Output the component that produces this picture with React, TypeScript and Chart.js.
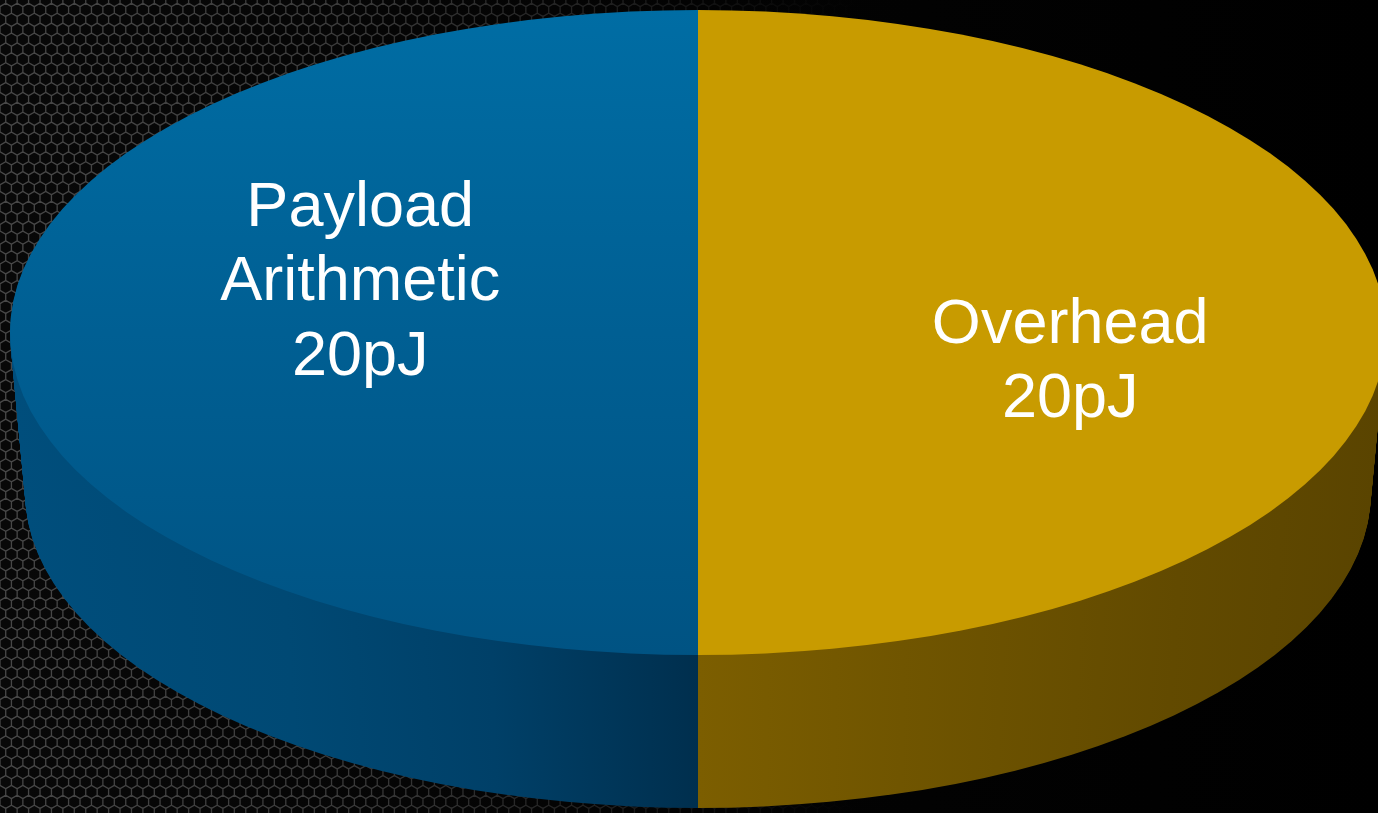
import { useEffect, useRef } from 'react';
import { Chart, registerables } from 'chart.js';

Chart.register(...registerables);

// Energy split per operation
const categories = ['Payload Arithmetic', 'Overhead'];
const categoryLines = [['Payload', 'Arithmetic'], ['Overhead']];
const energyPJ = [20, 20];
const unit = 'pJ';

// Label anchors as fractions of the ellipse radii (x, y) from the pie centre
const labelAnchors = [
  [-0.491, -0.169],
  [0.541, 0.079],
];

const GOLD_TOP = '#C89B00';

const DEPTH = 160; // side wall height in px
const PERSPECTIVE = 0.022; // bottom rim shrink

function drawHoneycomb(ctx: CanvasRenderingContext2D, w: number, h: number) {
  ctx.save();
  const base = ctx.createLinearGradient(0, 0, w, 0);
  base.addColorStop(0, '#080808');
  base.addColorStop(0.5, '#030303');
  base.addColorStop(1, '#000000');
  ctx.fillStyle = base;
  ctx.fillRect(0, 0, w, h);

  const s = 6.6;
  const hw = Math.sqrt(3) * s;
  const vs = 1.5 * s;
  const stroke = ctx.createLinearGradient(0, 0, w, 0);
  stroke.addColorStop(0, 'rgba(72,72,72,1)');
  stroke.addColorStop(0.25, 'rgba(64,64,64,0.9)');
  stroke.addColorStop(0.45, 'rgba(56,56,56,0.5)');
  stroke.addColorStop(0.62, 'rgba(40,40,40,0)');
  ctx.strokeStyle = stroke;
  ctx.lineWidth = 1.3;
  ctx.beginPath();
  for (let row = -1; row * vs < h + s; row++) {
    const y = row * vs;
    const off = Math.abs(row) % 2 === 1 ? hw / 2 : 0;
    for (let x = -hw + off; x < w * 0.7; x += hw) {
      for (let k = 0; k < 6; k++) {
        const a = (Math.PI / 180) * (60 * k - 30);
        const px = x + s * Math.cos(a);
        const py = y + s * Math.sin(a);
        if (k === 0) ctx.moveTo(px, py);
        else ctx.lineTo(px, py);
      }
      ctx.closePath();
    }
  }
  ctx.stroke();
  ctx.restore();
}

function sideGradient(ctx: CanvasRenderingContext2D, cx: number, r: number, index: number) {
  const g = ctx.createLinearGradient(cx - r, 0, cx + r, 0);
  if (index === 0) {
    g.addColorStop(0, 'rgb(0,78,124)');
    g.addColorStop(0.2, 'rgb(0,73,116)');
    g.addColorStop(0.35, 'rgb(0,64,104)');
    g.addColorStop(0.5, 'rgb(0,47,78)');
    g.addColorStop(1, 'rgb(0,47,78)');
  } else {
    g.addColorStop(0, 'rgb(122,93,0)');
    g.addColorStop(0.5, 'rgb(124,94,0)');
    g.addColorStop(0.65, 'rgb(112,85,0)');
    g.addColorStop(0.85, 'rgb(98,74,0)');
    g.addColorStop(1, 'rgb(90,68,0)');
  }
  return g;
}

const tiltedPie = {
  id: 'tiltedPie',
  beforeDraw(chart: any) {
    drawHoneycomb(chart.ctx, chart.width, chart.height);
  },
  beforeDatasetsDraw(chart: any) {
    const ctx: CanvasRenderingContext2D = chart.ctx;
    const area = chart.chartArea;
    const meta = chart.getDatasetMeta(0);
    if (!meta.data.length) return;
    const first = meta.data[0].getProps(['x', 'y', 'outerRadius'], true);
    const cx = first.x;
    const cy = first.y;
    const R = first.outerRadius;
    const sx = area.width / 2 / R;

    // side wall: stacked copies of each slice, shifted down
    for (let d = DEPTH; d >= 1; d--) {
      const k = 1 - (PERSPECTIVE * d) / DEPTH;
      ctx.save();
      ctx.translate(cx, cy + d);
      ctx.scale(sx * k, k);
      ctx.translate(-cx, -cy);
      meta.data.forEach((arc: any, i: number) => {
        const p = arc.getProps(['x', 'y', 'startAngle', 'endAngle', 'outerRadius'], true);
        ctx.beginPath();
        ctx.moveTo(p.x, p.y);
        ctx.arc(p.x, p.y, p.outerRadius, p.startAngle, p.endAngle);
        ctx.closePath();
        ctx.fillStyle = sideGradient(ctx, cx, R, i);
        ctx.fill();
      });
      ctx.restore();
    }

    // top face: stretch the library's circle into the ellipse
    ctx.save();
    ctx.translate(cx, cy);
    ctx.scale(sx, 1);
    ctx.translate(-cx, -cy);
  },
  afterDatasetsDraw(chart: any) {
    chart.ctx.restore();
  },
  afterDraw(chart: any) {
    const ctx: CanvasRenderingContext2D = chart.ctx;
    const area = chart.chartArea;
    const meta = chart.getDatasetMeta(0);
    if (!meta.data.length) return;
    const p = meta.data[0].getProps(['x', 'y', 'outerRadius'], true);
    const rx = area.width / 2;
    const ry = p.outerRadius;
    const fontSize = 63;
    const lh = 74.5;
    ctx.save();
    ctx.fillStyle = '#FFFFFF';
    ctx.font = `${fontSize}px "Liberation Sans", Arial, sans-serif`;
    ctx.textAlign = 'center';
    ctx.textBaseline = 'alphabetic';
    chart.data.labels.forEach((_: string, i: number) => {
      const lines = [...categoryLines[i], `${chart.data.datasets[0].data[i]}${unit}`];
      const ax = p.x + labelAnchors[i][0] * rx;
      const ay = p.y + labelAnchors[i][1] * ry;
      const n = lines.length;
      lines.forEach((t, j) => {
        ctx.fillText(t, ax, ay + (j - (n - 1) / 2) * lh + fontSize * 0.35);
      });
    });
    ctx.restore();
  },
};

export default function App() {
  const canvasRef = useRef<HTMLCanvasElement | null>(null);

  useEffect(() => {
    if (!canvasRef.current) return;
    const chart = new Chart(canvasRef.current, {
      type: 'pie',
      data: {
        labels: categories,
        datasets: [
          {
            data: energyPJ,
            borderWidth: 0,
            backgroundColor: (c: any) => {
              if (c.dataIndex === 1) return GOLD_TOP;
              const a = c.chart.chartArea;
              if (!a) return '#005E92';
              const g = c.chart.ctx.createLinearGradient(0, a.top, 0, a.bottom);
              g.addColorStop(0, '#006DA4');
              g.addColorStop(0.5, '#005F93');
              g.addColorStop(1, '#005383');
              return g;
            },
          },
        ],
      },
      options: {
        responsive: true,
        maintainAspectRatio: false,
        animation: false,
        events: [],
        rotation: 180,
        layout: { padding: { left: 10, right: 0, top: 10, bottom: 158 } },
        plugins: {
          legend: { display: false },
          tooltip: { enabled: false },
        },
      },
      plugins: [tiltedPie],
    } as any);
    return () => chart.destroy();
  }, []);

  // The drawing surface runs a few pixels past the right edge of the view,
  // so the rim of the pie is cut there.
  return (
    <div style={{ position: 'fixed', left: 0, top: 0, width: '100vw', height: '100vh', overflow: 'hidden', background: '#000' }}>
      <div style={{ position: 'absolute', left: 0, top: 0, width: 1386, height: 813 }}>
        <canvas ref={canvasRef} />
      </div>
    </div>
  );
}
